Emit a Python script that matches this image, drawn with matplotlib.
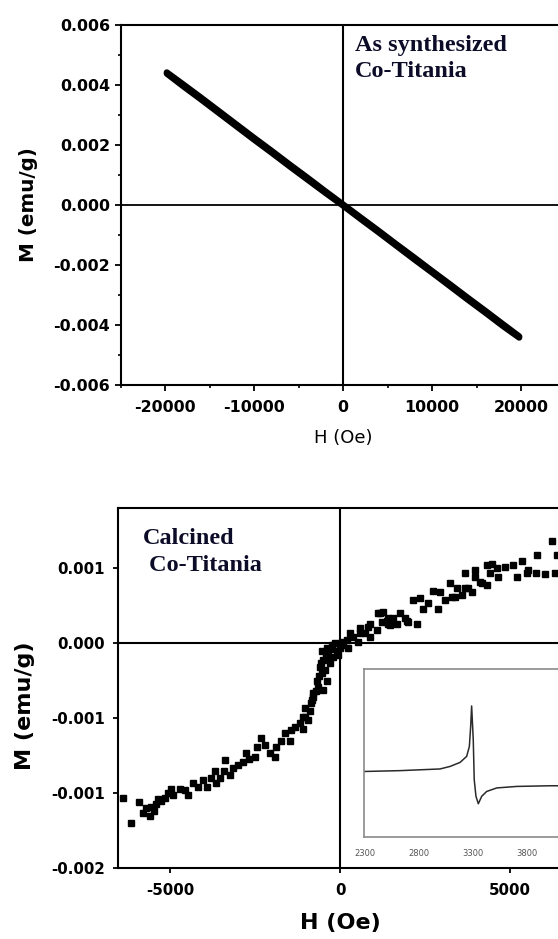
import numpy as np
import matplotlib
matplotlib.use("Agg")
import matplotlib.pyplot as plt
from matplotlib.ticker import MultipleLocator, FormatStrFormatter

plt.rcParams["axes.unicode_minus"] = False

# ---- data: as synthesized Co-Titania (two branches of the M-H loop)
H_syn = [-19800, -18000, -16000, -14000, -12000, -10000, -8000, -6000, -4000, -2000, 0,
         2000, 4000, 6000, 8000, 10000, 12000, 14000, 16000, 18000, 19800]
M_syn_down = [0.00442, 0.00403, 0.00359, 0.00314, 0.00269, 0.00224, 0.00180, 0.00135, 0.00091,
              0.00046, 0.00002, -0.00042, -0.00086, -0.00131, -0.00175, -0.00220, -0.00264,
              -0.00309, -0.00353, -0.00398, -0.00438]
M_syn_up = [0.00438, 0.00397, 0.00353, 0.00308, 0.00263, 0.00218, 0.00174, 0.00129, 0.00085,
            0.00041, -0.00002, -0.00047, -0.00091, -0.00136, -0.00181, -0.00225, -0.00270,
            -0.00315, -0.00359, -0.00404, -0.00442]

# ---- data: calcined Co-Titania (scatter)
H_cal = [-6380, -6160, -5920, -5790, -5700, -5600, -5560, -5480, -5410, -5350, -5260, -5160,
         -5050, -4980, -4910, -4720, -4570, -4470, -4320, -4180, -4030, -3910, -3790, -3680,
         -3650, -3540, -3410, -3390, -3250, -3150, -3000, -2850, -2760, -2690, -2510, -2440,
         -2320, -2210, -2070, -1920, -1880, -1740, -1630, -1480, -1440, -1330, -1180, -1090,
         -1090, -1040, -1030, -940, -890, -850, -830, -790, -790, -720, -690, -650, -620,
         -590, -560, -540, -540, -500, -500, -450, -420, -390, -390, -350, -300, -290, -250,
         -200, -150, -100, -60, 0, 50,
         100, 200, 240, 290, 380, 530, 590, 590, 740, 820, 880, 880, 1080, 1120, 1180, 1230,
         1270, 1370, 1420, 1420, 1470, 1560, 1670, 1760, 1910, 1960, 2000, 2150, 2260, 2350,
         2450, 2590, 2740, 2880, 2940, 3090, 3240, 3280, 3380, 3430, 3580, 3680, 3680, 3770,
         3870, 3970, 3970, 4120, 4170, 4310, 4310, 4410, 4460, 4610, 4650, 4850, 5090, 5200,
         5340, 5490, 5530, 5760, 5790, 6030, 6230, 6320, 6370]
M_cal = [-0.00103, -0.00120, -0.00106, -0.00113, -0.00110, -0.00115, -0.00109, -0.00112,
         -0.00107, -0.00104, -0.00105, -0.00103, -0.00100, -0.00097, -0.00101, -0.00097,
         -0.00098, -0.00101, -0.00093, -0.00096, -0.00091, -0.00096, -0.00090, -0.00085,
         -0.00093, -0.00090, -0.00085, -0.00078, -0.00088, -0.00083, -0.00081, -0.00079,
         -0.00073, -0.00077, -0.00076, -0.00069, -0.00063, -0.00068, -0.00073, -0.00076,
         -0.00069, -0.00065, -0.00060, -0.00065, -0.00058, -0.00056, -0.00053, -0.00057,
         -0.00049, -0.00049, -0.00043, -0.00051, -0.00045, -0.00040, -0.00038, -0.00036,
         -0.00033, -0.00032, -0.00025, -0.00029, -0.00022, -0.00016, -0.00013, -0.00020,
         -0.00005, -0.00031, -0.00011, -0.00018, -0.00009, -0.00025, -0.00003, -0.00007,
         -0.00004, -0.00013, -0.00001, -0.00009, 0.00000, -0.00005, -0.00008, -0.00003, 0.00001,
         -0.00001, 0.00002, -0.00003, 0.00007, 0.00004, 0.00001, 0.00007, 0.00010, 0.00007,
         0.00011, 0.00004, 0.00013, 0.00009, 0.00020, 0.00020, 0.00014, 0.00021, 0.00015,
         0.00013, 0.00017, 0.00012, 0.00017, 0.00013, 0.00020, 0.00017, 0.00015, 0.00014,
         0.00029, 0.00013, 0.00030, 0.00023, 0.00027, 0.00035, 0.00023, 0.00034, 0.00029,
         0.00040, 0.00031, 0.00031, 0.00037, 0.00032, 0.00047, 0.00037, 0.00037, 0.00034,
         0.00049, 0.00044, 0.00041, 0.00040, 0.00039, 0.00052, 0.00047, 0.00053, 0.00050,
         0.00044, 0.00051, 0.00052, 0.00044, 0.00055, 0.00047, 0.00049, 0.00047, 0.00059,
         0.00046, 0.00068, 0.00047, 0.00059]

# ---- data: inset EPR spectrum (field in G, signal in a.u.)
H_epr = [2290, 2624, 2994, 3087, 3180, 3241, 3266, 3278, 3287, 3302, 3311, 3327, 3349,
         3380, 3426, 3519, 3704, 4013, 4470]
S_epr = [0.390, 0.395, 0.405, 0.420, 0.444, 0.480, 0.539, 0.658, 0.780, 0.579, 0.341,
         0.242, 0.198, 0.242, 0.271, 0.292, 0.301, 0.305, 0.305]
epr_ticks = [2300, 2800, 3300, 3800]

W, H = 558, 939
fig = plt.figure(figsize=(W / 100, H / 100), dpi=100)

def px_axes(left, top, right, bottom):
    return fig.add_axes([left / W, 1 - bottom / H, (right - left) / W, (bottom - top) / H])

tick_font = dict(family="DejaVu Sans", weight="bold")
serif_font = dict(family="Liberation Serif", weight="bold")
txt_color = "#0c0c28"

# ---------------- top panel
ax1 = px_axes(120.5, 25, 565.5, 385)
ax1.axhline(0, color="black", lw=1.3, zorder=1)
ax1.axvline(0, color="black", lw=1.5, zorder=1)
ax1.plot(H_syn, M_syn_down, color="black", lw=4.5, solid_capstyle="round", zorder=3)
ax1.plot(H_syn, M_syn_up, color="black", lw=4.5, solid_capstyle="round", zorder=3)
ax1.set_xlim(-25000, 25000)
ax1.set_ylim(-0.006, 0.006)
ax1.xaxis.set_major_locator(MultipleLocator(10000))
ax1.xaxis.set_minor_locator(MultipleLocator(5000))
ax1.yaxis.set_major_locator(MultipleLocator(0.002))
ax1.yaxis.set_minor_locator(MultipleLocator(0.001))
ax1.yaxis.set_major_formatter(FormatStrFormatter("%.3f"))
ax1.tick_params(which="major", direction="out", length=4.5, width=1.3)
ax1.tick_params(which="minor", direction="out", length=2.5, width=1.2)
ax1.tick_params(axis="x", which="major", pad=6)
ax1.tick_params(axis="y", which="major", pad=3)
for lab in ax1.get_xticklabels() + ax1.get_yticklabels():
    lab.set_fontsize(11.4)
    lab.set_fontfamily("DejaVu Sans")
    lab.set_fontweight("bold")
for s in ax1.spines.values():
    s.set_linewidth(1.5)
ax1.set_xlabel("H (Oe)", fontsize=13, family="DejaVu Sans")
ax1.xaxis.set_label_coords(0.5, -0.122)
ax1.set_ylabel("M (emu/g)", fontsize=14.3, **tick_font)
ax1.yaxis.set_label_coords(-0.185, 0.5)
ax1.text(0.527, 0.972, "As synthesized\nCo-Titania", transform=ax1.transAxes,
         ha="left", va="top", fontsize=17.5, color=txt_color, linespacing=1.3, **serif_font)

# ---------------- bottom panel
ax2 = px_axes(118, 508, 578, 868)
ax2.axhline(0, color="black", lw=1.5, zorder=1)
ax2.axvline(0, color="black", lw=1.5, zorder=1)
ax2.plot(H_cal, M_cal, linestyle="none", marker="s", markersize=4.2, color="black", zorder=3)
ax2.set_xlim(-6530, 7000)
ax2.set_ylim(-0.0015, 0.0009)
ax2.xaxis.set_major_locator(MultipleLocator(5000))
ax2.yaxis.set_major_locator(MultipleLocator(0.0005))
ax2.yaxis.set_major_formatter(FormatStrFormatter("%.3f"))
ax2.tick_params(which="major", direction="out", length=3.5, width=1.3)
ax2.tick_params(axis="x", pad=7)
ax2.tick_params(axis="y", pad=6)
for lab in ax2.get_xticklabels() + ax2.get_yticklabels():
    lab.set_fontsize(10.8)
    lab.set_fontfamily("DejaVu Sans")
    lab.set_fontweight("bold")
for s in ax2.spines.values():
    s.set_linewidth(1.5)
ax2.set_xlabel("H (Oe)", fontsize=16, **tick_font)
ax2.xaxis.set_label_coords(0.4826, -0.125)
ax2.set_ylabel("M (emu/g)", fontsize=16, **tick_font)
ax2.yaxis.set_label_coords(-0.18, 0.45)
ax2.text(0.054, 0.944, "Calcined\n Co-Titania", transform=ax2.transAxes,
         ha="left", va="top", fontsize=17.5, color=txt_color, linespacing=1.35, **serif_font)

# ---------------- inset
ax3 = px_axes(364, 669, 600, 837)
ax3.plot(H_epr, S_epr, color="#2a2a2a", lw=1.1)
ax3.set_xlim(2290, 4476)
ax3.set_ylim(0, 1)
ax3.set_yticks([])
ax3.set_xticks(epr_ticks)
ax3.tick_params(axis="x", length=0, pad=9, labelsize=6, labelcolor="#555555")
for s in ax3.spines.values():
    s.set_color("#8a8a8a")
    s.set_linewidth(1.2)

fig.savefig("out.png", dpi=100)
